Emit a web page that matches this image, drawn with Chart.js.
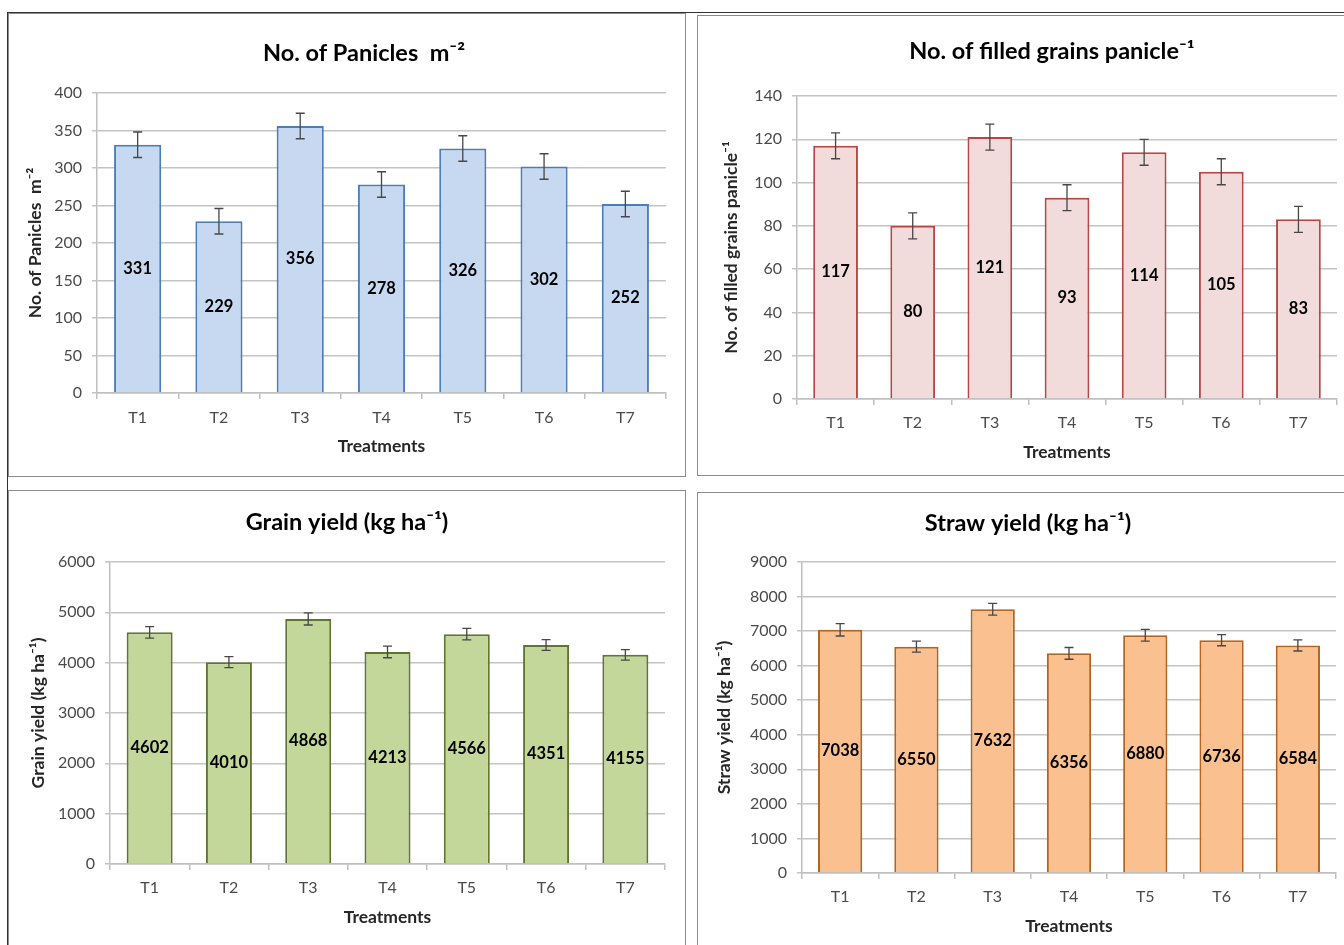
<!DOCTYPE html>
<html>
<head>
<meta charset="utf-8">
<script src="https://cdn.jsdelivr.net/npm/chart.js@4"></script>
<style>
html, body { margin: 0; padding: 0; background: #fff; width: 1344px; height: 945px; overflow: hidden; }
.marco { position: absolute; left: 7px; top: 12px; width: 1400px; height: 1000px; border-top: 1px solid #333; border-left: 1px solid #333; }
.panel { position: absolute; outline: 1px solid #8c8c8c; outline-offset: -1px; background: #fff; }
.panel canvas { display: block; }
</style>
</head>
<body>
<div class="marco"></div>
<div class="panel" id="p1" style="left:8px;top:13px;width:678px;height:464px"><canvas id="g1" width="678" height="464"></canvas></div>
<div class="panel" id="p2" style="left:697px;top:15px;width:660px;height:461px"><canvas id="g2" width="660" height="461"></canvas></div>
<div class="panel" id="p3" style="left:8px;top:490px;width:678px;height:460px"><canvas id="g3" width="678" height="460"></canvas></div>
<div class="panel" id="p4" style="left:697px;top:492px;width:660px;height:458px"><canvas id="g4" width="660" height="458"></canvas></div>
<script>
const tratamientos = ['T1', 'T2', 'T3', 'T4', 'T5', 'T6', 'T7']

const paniculas = [331, 229, 356, 278, 326, 302, 252]
const errPaniculas = [17, 17, 17, 17, 17, 17, 17]
const escalaPaniculas = [0, 400, 50]

const granosLlenos = [117, 80, 121, 93, 114, 105, 83]
const errGranos = [6, 6, 6, 6, 6, 6, 6]
const escalaGranos = [0, 140, 20]

const rendGrano = [4602, 4010, 4868, 4213, 4566, 4351, 4155]
const errGrano = [115, 110, 120, 115, 115, 105, 105]
const escalaGrano = [0, 6000, 1000]

const rendPaja = [7038, 6550, 7632, 6356, 6880, 6736, 6584]
const errPaja = [180, 160, 170, 170, 170, 160, 160]
const escalaPaja = [0, 9000, 1000]

const fuente = 'Lato'
const tamTitulo = 23.5
const tamEje = 17.5
const tamTicks = 16
const tamValor = 16.5
Chart.defaults.font.family = fuente
Chart.defaults.color = '#4a4a4a'

// barras de error y etiquetas de valor dentro de cada barra
const barrasError = {
    id: 'barrasError',
    afterLayout(chart, args, opts) {
        // el titulo del original no queda centrado en el lienzo
        const bloque = chart.titleBlock
        const mover = opts.centroTitulo - (bloque.left + bloque.right) / 2
        bloque.left += mover
        bloque.right += mover
    },
    afterDatasetsDraw(chart, args, opts) {
        const ctx = chart.ctx
        const y = chart.scales.y
        const meta = chart.getDatasetMeta(0)
        const valores = chart.data.datasets[0].data
        ctx.save()
        ctx.strokeStyle = '#474747'
        ctx.lineWidth = 1.3
        meta.data.forEach((barra, i) => {
            const arriba = y.getPixelForValue(valores[i] + opts.errores[i])
            const abajo = y.getPixelForValue(valores[i] - opts.errores[i])
            ctx.beginPath()
            ctx.moveTo(barra.x, arriba)
            ctx.lineTo(barra.x, abajo)
            ctx.moveTo(barra.x - 4.5, arriba)
            ctx.lineTo(barra.x + 4.5, arriba)
            ctx.moveTo(barra.x - 4.5, abajo)
            ctx.lineTo(barra.x + 4.5, abajo)
            ctx.stroke()
        })
        ctx.fillStyle = '#000'
        ctx.font = `bold ${tamValor}px ${fuente}`
        ctx.textAlign = 'center'
        ctx.textBaseline = 'middle'
        meta.data.forEach((barra, i) => {
            ctx.fillText(valores[i], barra.x, (barra.y + barra.base) / 2)
        })
        ctx.restore()
    }
}

const crearGrafico = (id, geo, titulo, tituloY, valores, errores, escala, relleno, borde) => {
    const lienzo = document.getElementById(id)
    const ancho = lienzo.width
    const alto = lienzo.height
    const mediaT = tamTitulo * 0.6
    const mediaE = tamEje * 0.6
    const altoX = geo.trat + mediaE + 6

    return new Chart(lienzo.getContext('2d'), {
        type: 'bar',
        data: {
            labels: tratamientos,
            datasets: [{
                data: valores,
                backgroundColor: relleno,
                borderColor: borde,
                borderWidth: 2,
                categoryPercentage: 0.58,
                barPercentage: 1
            }]
        },
        options: {
            responsive: false,
            animation: false,
            layout: {
                padding: { left: 0, top: 0, right: ancho - geo.R, bottom: alto - geo.B - altoX }
            },
            plugins: {
                legend: { display: false },
                tooltip: { enabled: false },
                title: {
                    display: true,
                    text: titulo,
                    color: '#000',
                    font: { size: tamTitulo, weight: 'bold', lineHeight: 1.2 },
                    padding: { top: geo.tit - mediaT, bottom: geo.T - geo.tit - mediaT }
                },
                barrasError: { errores: errores, centroTitulo: geo.titX }
            },
            scales: {
                x: {
                    grid: { drawOnChartArea: false, drawTicks: true, tickLength: 6, color: '#bfbfbf', lineWidth: 1.5 },
                    border: { color: '#bfbfbf', width: 1.5 },
                    ticks: { padding: geo.etq - tamTicks * 0.6 - 6, maxRotation: 0, font: { size: tamTicks } },
                    title: {
                        display: true,
                        text: 'Treatments',
                        color: '#262626',
                        font: { size: tamEje, weight: 'bold', lineHeight: 1.2 },
                        padding: { top: 0, bottom: 6 }
                    },
                    afterFit: (eje) => { eje.height = altoX }
                },
                y: {
                    min: escala[0],
                    max: escala[1],
                    grid: { color: '#c4c4c4', lineWidth: 1.5, tickLength: 5 },
                    border: { color: '#bfbfbf', width: 1.5 },
                    ticks: {
                        stepSize: escala[2],
                        padding: 10,
                        font: { size: tamTicks },
                        callback: (valor) => String(valor)
                    },
                    title: {
                        display: true,
                        text: tituloY,
                        color: '#262626',
                        font: { size: tamEje, weight: 'bold', lineHeight: 1.2 },
                        padding: { top: geo.ejeY - mediaE, bottom: 0 }
                    },
                    afterFit: (eje) => { eje.width = geo.L }
                }
            }
        },
        plugins: [barrasError]
    })
}

crearGrafico('g1', { L: 89, R: 658, T: 80, B: 380, tit: 40, titX: 356, ejeY: 27, etq: 25, trat: 53 },
    'No. of Panicles  m⁻²', 'No. of Panicles  m⁻²', paniculas, errPaniculas, escalaPaniculas, '#c6d9f1', '#4a7ebb')

crearGrafico('g2', { L: 100, R: 640, T: 81, B: 384, tit: 36, titX: 355, ejeY: 34, etq: 24, trat: 53 },
    'No. of filled grains panicle⁻¹', 'No. of filled grains panicle⁻¹', granosLlenos, errGranos, escalaGranos, '#f2dcdb', '#b64746')

crearGrafico('g3', { L: 102, R: 657, T: 72, B: 374, tit: 32, titX: 339, ejeY: 30, etq: 24, trat: 53 },
    'Grain yield (kg ha⁻¹)', 'Grain yield (kg ha⁻¹)', rendGrano, errGrano, escalaGrano, '#c4d79b', '#5f7530')

crearGrafico('g4', { L: 105, R: 639, T: 70, B: 381, tit: 31, titX: 331, ejeY: 27, etq: 24, trat: 53 },
    'Straw yield (kg ha⁻¹)', 'Straw yield (kg ha⁻¹)', rendPaja, errPaja, escalaPaja, '#fac090', '#b4641e')
</script>
</body>
</html>
